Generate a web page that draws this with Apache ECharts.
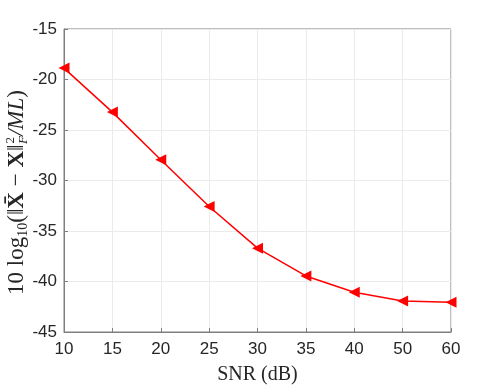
<!DOCTYPE html>
<html>
<head>
<meta charset="utf-8">
<script src="https://cdn.jsdelivr.net/npm/echarts@6/dist/echarts.min.js"></script>
<style>
  html, body { margin: 0; padding: 0; background: #fff; }
  #chart { width: 498px; height: 386px; }
</style>
</head>
<body>
<div id="chart"></div>
<script>
// SNR values (dB) - drawn evenly spaced, like the reference
const snrLabels = ["10", "15", "20", "25", "30", "35", "40", "50", "60"];
// 10log10(||Xbar - X||_F^2 / ML)
const nmseDb = [-18.87, -23.23, -27.95, -32.57, -36.7, -39.45, -41.07, -41.92, -42.06];

const yMin = -45, yMax = -15, yStep = 5;

const chart = echarts.init(document.getElementById("chart"), null, { renderer: "canvas" });

const axisGray = "#7f7f7f";
const textGray = "#262626";
const tickFont = { fontFamily: "Liberation Sans, Arial, sans-serif", fontSize: 17, color: textGray };
const serif = "Liberation Serif, DejaVu Serif, serif";

chart.setOption({
  animation: false,
  grid: {
    left: 64, right: 47, top: 29, bottom: 54,
    outerBoundsMode: "none", containLabel: false,
    show: true, borderColor: axisGray, borderWidth: 1
  },
  xAxis: [{
    type: "category",
    data: snrLabels,
    boundaryGap: false,
    name: "SNR (dB)",
    nameLocation: "middle",
    nameGap: 33,
    nameMoveOverlap: false,
    nameTextStyle: { fontFamily: serif, fontSize: 20, color: textGray },
    axisLine: { lineStyle: { color: axisGray } },
    axisTick: { inside: true, length: 4, lineStyle: { color: axisGray } },
    axisLabel: Object.assign({ margin: 9 }, tickFont),
    splitLine: { show: true, lineStyle: { color: "#ebebeb" } }
  }],
  yAxis: [{
    type: "value",
    min: yMin, max: yMax, interval: yStep,
    name: "{n|10 log}{s|10}{n|(‖}{b|X̄}{n| − }{b|X}{n|‖}{p|2}{q|F}{i|/ML}{n|)}",
    nameLocation: "middle",
    nameRotate: 90,
    nameGap: 34,
    nameMoveOverlap: false,
    nameTextStyle: {
      fontFamily: serif, fontSize: 23, color: textGray, lineHeight: 26,
      padding: [0, 24, 0, 0],
      rich: {
        n: { fontFamily: serif, fontSize: 23, color: textGray },
        s: { fontFamily: serif, fontSize: 14, color: textGray, verticalAlign: "bottom", padding: [9, 0, 0, 0] },
        b: { fontFamily: serif, fontSize: 23, fontWeight: "bold", color: textGray },
        p: { fontFamily: serif, fontSize: 13, color: textGray, verticalAlign: "top", padding: [0, 0, 9, 1] },
        q: { fontFamily: serif, fontSize: 13, fontStyle: "italic", color: textGray, verticalAlign: "bottom", padding: [9, 0, 0, -7] },
        i: { fontFamily: serif, fontSize: 23, fontStyle: "italic", color: textGray }
      }
    },
    axisLine: { show: true, lineStyle: { color: axisGray } },
    axisTick: { show: true, inside: true, length: 4, lineStyle: { color: axisGray } },
    axisLabel: Object.assign({ margin: 7 }, tickFont),
    splitLine: { show: true, lineStyle: { color: "#ebebeb" } }
  }],
  series: [{
    type: "line",
    data: nmseDb,
    symbol: "triangle",
    symbolRotate: 90,
    symbolSize: 11,
    lineStyle: { color: "#ff0000", width: 1.5 },
    itemStyle: { color: "#ff0000" },
    z: 5
  }]
});
</script>
</body>
</html>
